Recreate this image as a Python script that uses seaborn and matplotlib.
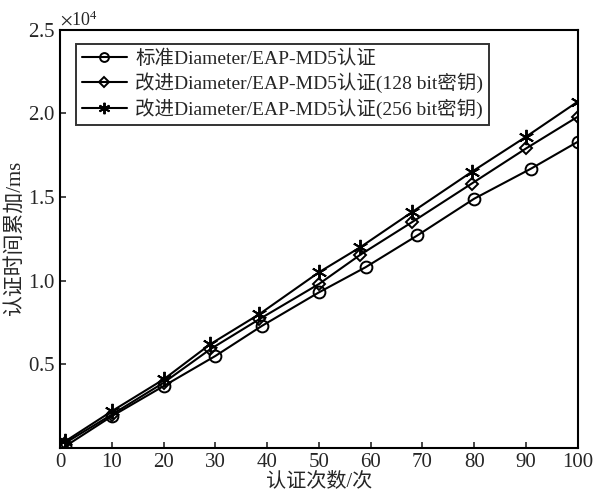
import numpy as np
import pandas as pd
import matplotlib
matplotlib.use("Agg")
import matplotlib.pyplot as plt
import seaborn as sns

# data (y in ms)
labels = ["标准Diameter/EAP-MD5认证",
          "改进Diameter/EAP-MD5认证(128 bit密钥)",
          "改进Diameter/EAP-MD5认证(256 bit密钥)"]
x_std = [1, 10, 20, 30, 39, 50, 59, 69, 80, 91, 100]
y_std = [100, 1900, 3700, 5500, 7300, 9300, 10800, 12700, 14900, 16700, 18300]
x_128 = [1, 10, 20, 29, 38.5, 50, 58, 68, 79.5, 90, 100]
y_128 = [300, 2000, 3900, 5900, 7700, 9800, 11550, 13500, 15800, 17900, 19800]
x_256 = [1, 10, 20, 29, 38.5, 50, 58, 68, 79.5, 90, 100]
y_256 = [400, 2200, 4100, 6200, 8000, 10500, 12000, 14100, 16500, 18600, 20700]
markers = ["o", "D", (6, 2, 0)]
msizes = [8.5, 6.5, 11]

sns.set_style("ticks")
plt.rcParams["font.family"] = ["Liberation Serif", "Noto Sans CJK SC"]
plt.rcParams["mathtext.fontset"] = "stix"
plt.rcParams["xtick.direction"] = "in"
plt.rcParams["ytick.direction"] = "in"

fig = plt.figure(figsize=(5.95, 4.95), dpi=100)
ax = fig.add_axes([0.101, 0.095, 0.87, 0.845])

series = [(x_std, y_std), (x_128, y_128), (x_256, y_256)]
for (xs, ys), lab, m, ms in zip(series, labels, markers, msizes):
    df = pd.DataFrame({"x": xs, "y": ys})
    sns.lineplot(data=df, x="x", y="y", ax=ax, color="black", lw=1.5,
                 marker=m, markersize=ms, markerfacecolor="none",
                 markeredgecolor="black", markeredgewidth=1.4, label=lab)

ax.set_xlim(0, 100)
ax.set_ylim(0, 25000)
ax.set_xticks(np.arange(0, 101, 10))
ax.set_yticks([5000, 10000, 15000, 20000, 25000])
fmt = matplotlib.ticker.ScalarFormatter(useMathText=True)
fmt.set_powerlimits((0, 0))
ax.yaxis.set_major_formatter(fmt)
ax.yaxis.get_offset_text().set_fontsize(13)
ax.tick_params(labelsize=15, length=4, width=1.2)
for s in ax.spines.values():
    s.set_linewidth(1.5)
    s.set_color("black")

ax.set_xlabel("认证次数/次", fontsize=14.5, labelpad=0)
ax.set_ylabel("认证时间累加/ms", fontsize=15, labelpad=2)

leg = ax.legend(loc="upper left", bbox_to_anchor=(0.012, 0.99), fontsize=14,
                frameon=True, fancybox=False, edgecolor="black",
                handlelength=2.3, borderpad=0.3, labelspacing=0.25,
                handletextpad=0.45, markerscale=0.75)
leg.get_frame().set_linewidth(1.4)

plt.savefig("out.png", dpi=100)
